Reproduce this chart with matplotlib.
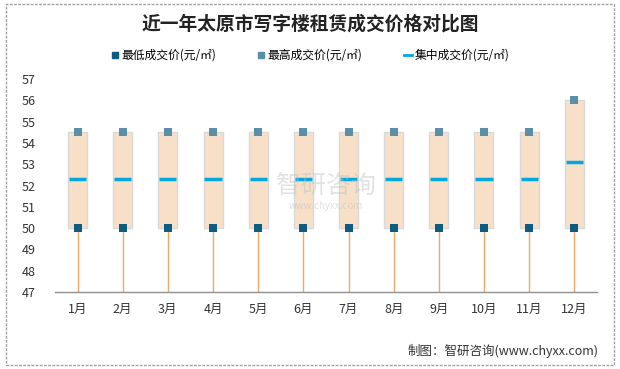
import matplotlib
matplotlib.use("Agg")
import matplotlib.pyplot as plt
from matplotlib.patches import Rectangle
from matplotlib.lines import Line2D

plt.rcParams['font.family'] = ['Noto Sans CJK SC', 'DejaVu Sans']

months = ['1月', '2月', '3月', '4月', '5月', '6月', '7月', '8月', '9月', '10月', '11月', '12月']
low = [50, 50, 50, 50, 50, 50, 50, 50, 50, 50, 50, 50]
high = [54.5, 54.5, 54.5, 54.5, 54.5, 54.5, 54.5, 54.5, 54.5, 54.5, 54.5, 56]
mid = [52.3, 52.3, 52.3, 52.3, 52.3, 52.3, 52.3, 52.3, 52.3, 52.3, 52.3, 53.1]
yticks = [47, 48, 49, 50, 51, 52, 53, 54, 55, 56, 57]

fig = plt.figure(figsize=(6.2, 3.69), dpi=100)
ax = fig.add_axes([0.0887, 0.2087, 0.874, 0.577])

x = list(range(len(months)))
bw = 0.42
for i in x:
    ax.plot([i, i], [47, low[i]], color='#f0a868', lw=1, zorder=1)
    ax.add_patch(Rectangle((i - bw / 2, low[i]), bw, high[i] - low[i],
                           facecolor='#f8e0c8', edgecolor='#d9d9d9', lw=1, zorder=2))
    ax.plot([i - bw / 2 + 0.02, i + bw / 2 - 0.02], [mid[i], mid[i]], color='#00a8e0', lw=2.5,
            solid_capstyle='butt', zorder=3)
ax.scatter(x, low, marker='s', s=26, color='#0e5c80', zorder=4, linewidths=0)
ax.scatter(x, high, marker='s', s=26, color='#5b8ea8', zorder=4, linewidths=0)

ax.set_xlim(-0.5, len(months) - 0.5)
ax.set_ylim(47, 57)
ax.set_yticks(yticks)
ax.set_xticks(x)
ax.set_xticklabels(months)
ax.tick_params(axis='both', length=0, labelsize=9, colors='#333333', pad=8)
ax.tick_params(axis='y', pad=14)
for s in ['top', 'right', 'left']:
    ax.spines[s].set_visible(False)
ax.spines['bottom'].set_color('#909090')
ax.spines['bottom'].set_linewidth(1)

# watermark
ax.text(0.5, 0.5, '智研咨询', transform=ax.transAxes, ha='center', va='center',
        fontsize=18, color='#c0c0c0', alpha=0.45, zorder=5)
ax.text(0.5, 0.405, 'www.chyxx.com', transform=ax.transAxes, ha='center', va='center',
        fontsize=7, color='#c0c0c0', alpha=0.5, zorder=5)

fig.text(0.5, 0.935, '近一年太原市写字楼租赁成交价格对比图', ha='center', va='center',
         fontsize=13.5, fontweight='bold', color='#222222')

handles = [
    Line2D([], [], marker='s', ls='none', color='#0e5c80', markersize=5),
    Line2D([], [], marker='s', ls='none', color='#5b8ea8', markersize=5),
    Line2D([], [], color='#00a8e0', lw=2),
]
labels = ['最低成交价(元/㎡)', '最高成交价(元/㎡)', '集中成交价(元/㎡)']
fig.legend(handles, labels, loc='center', bbox_to_anchor=(0.5, 0.85), ncol=3, frameon=False,
           fontsize=8.5, handlelength=0.7, handletextpad=0.2, columnspacing=3.5)

fig.text(0.965, 0.05, '制图：智研咨询(www.chyxx.com)', ha='right', va='center', fontsize=9, color='#333333')

border = Rectangle((0.01, 0.01), 0.98, 0.98, transform=fig.transFigure, fill=False,
                   edgecolor='#a0a0a0', lw=1, ls=(0, (2, 1)))
fig.patches.append(border)

fig.savefig('out.png', dpi=100)
